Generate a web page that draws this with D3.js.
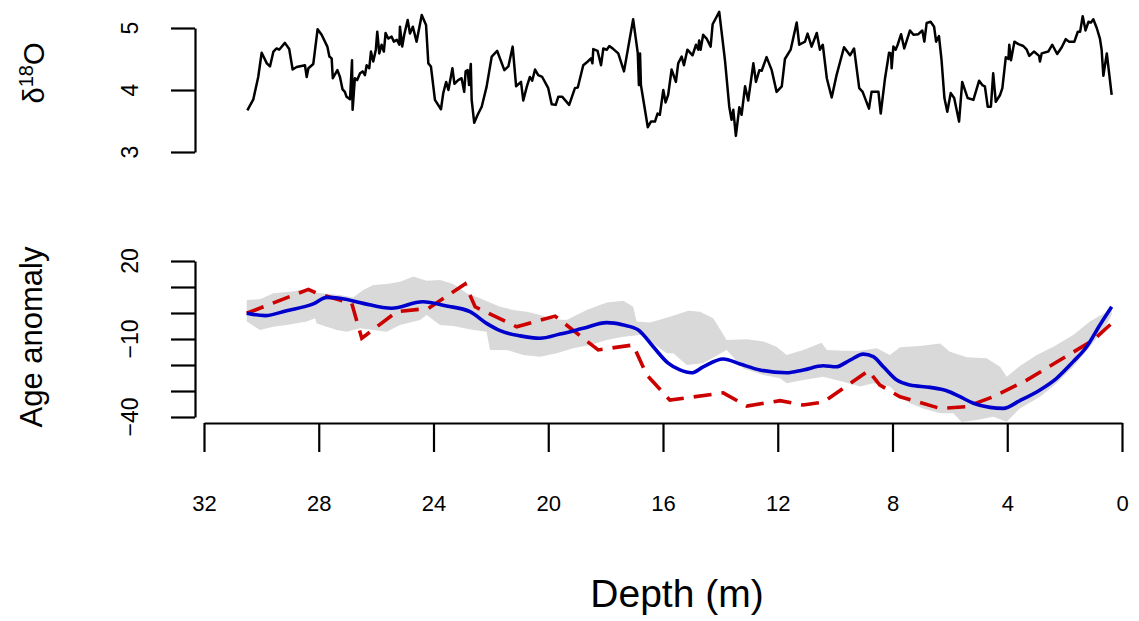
<!DOCTYPE html>
<html>
<head>
<meta charset="utf-8">
<script src="https://cdn.jsdelivr.net/npm/d3@7"></script>
<style>
  body { margin: 0; background: #fff; }
  svg { display: block; font-family: 'Liberation Sans', Arial, sans-serif; }
  .axis path, .axis line { stroke: #000; stroke-width: 2.2; }
</style>
</head>
<body>
<div id="chart"></div>
<script>
// ---- data: d18O record (depth in m, value in permil)
const o18Depth = [30.49, 30.28, 30.11, 29.99, 29.81, 29.70, 29.58, 29.47, 29.38, 29.18,
  29.03, 28.91, 28.77, 28.48, 28.42, 28.36, 28.19, 28.04, 27.90, 27.70,
  27.63, 27.55, 27.51, 27.35, 27.26, 27.17, 27.09, 27.03, 26.91, 26.84,
  26.82, 26.74, 26.66, 26.56, 26.47, 26.39, 26.33, 26.24, 26.18, 26.10,
  26.01, 25.96, 25.89, 25.81, 25.73, 25.67, 25.58, 25.46, 25.38, 25.28,
  25.19, 25.17, 25.09, 25.02, 24.90, 24.82, 24.72, 24.59, 24.41, 24.26,
  24.18, 24.09, 23.95, 23.74, 23.66, 23.56, 23.48, 23.34, 23.27, 23.14,
  23.02, 22.93, 22.88, 22.81, 22.76, 22.70, 22.67, 22.58, 22.46, 22.32,
  22.15, 21.97, 21.78, 21.53, 21.39, 21.24, 21.12, 20.95, 20.87, 20.75,
  20.64, 20.56, 20.46, 20.35, 20.21, 20.00, 19.88, 19.74, 19.65, 19.51,
  19.27, 19.07, 18.97, 18.78, 18.62, 18.51, 18.46, 18.43, 18.28, 18.16,
  18.08, 17.96, 17.87, 17.73, 17.56, 17.36, 17.04, 16.88, 16.84, 16.80,
  16.77, 16.53, 16.42, 16.28, 16.19, 16.11, 15.99, 15.91, 15.82, 15.70,
  15.61, 15.55, 15.47, 15.35, 15.27, 15.15, 14.97, 14.85, 14.77, 14.74,
  14.69, 14.60, 14.48, 14.34, 14.27, 14.04, 13.84, 13.69, 13.61, 13.55,
  13.46, 13.34, 13.26, 13.14, 13.03, 12.85, 12.76, 12.64, 12.56, 12.39,
  12.21, 12.04, 11.86, 11.75, 11.55, 11.34, 11.25, 11.05, 10.96, 10.82,
  10.64, 10.53, 10.43, 10.29, 10.12, 9.95, 9.69, 9.48, 9.34, 9.16,
  9.04, 8.82, 8.73, 8.49, 8.41, 8.26, 8.12, 8.05, 8.03, 7.97,
  7.89, 7.82, 7.70, 7.59, 7.39, 7.27, 7.10, 6.96, 6.89, 6.81,
  6.67, 6.55, 6.48, 6.38, 6.29, 6.19, 6.09, 5.97, 5.85, 5.68,
  5.57, 5.38, 5.18, 4.98, 4.87, 4.78, 4.68, 4.57, 4.49, 4.40,
  4.25, 4.17, 4.05, 3.96, 3.93, 3.87, 3.75, 3.61, 3.44, 3.32,
  3.23, 3.07, 2.89, 2.86, 2.80, 2.57, 2.43, 2.26, 2.10, 1.96,
  1.85, 1.66, 1.54, 1.46, 1.37, 1.27, 1.17, 1.08, 1.00, 0.88,
  0.77, 0.71, 0.65, 0.53, 0.36];
const o18Value = [3.67, 3.85, 4.21, 4.60, 4.43, 4.38, 4.62, 4.67, 4.65, 4.76,
  4.66, 4.33, 4.37, 4.40, 4.21, 4.35, 4.42, 4.98, 4.89, 4.70,
  4.54, 4.51, 4.19, 4.32, 4.21, 4.01, 3.97, 3.89, 3.85, 4.48,
  3.68, 4.19, 4.16, 4.27, 4.30, 4.24, 4.40, 4.35, 4.62, 4.46,
  4.65, 4.94, 4.59, 4.73, 4.62, 4.92, 4.83, 4.86, 4.78, 4.81,
  4.73, 5.02, 4.70, 4.89, 5.13, 4.91, 5.02, 4.78, 5.21, 5.05,
  4.43, 4.38, 3.84, 3.69, 3.95, 4.13, 4.00, 4.35, 4.10, 4.16,
  4.19, 3.97, 4.30, 4.32, 4.08, 4.42, 3.84, 3.47, 3.60, 3.73,
  4.05, 4.54, 4.63, 4.32, 4.38, 4.70, 4.06, 4.13, 3.83, 4.05,
  4.21, 4.15, 4.33, 4.24, 4.21, 4.03, 3.77, 3.76, 3.89, 3.89,
  3.76, 4.03, 4.04, 4.40, 4.46, 4.51, 4.43, 4.66, 4.63, 4.40,
  4.67, 4.65, 4.71, 4.66, 4.59, 4.30, 5.14, 4.60, 4.08, 4.59,
  4.08, 3.40, 3.49, 3.49, 3.62, 3.60, 4.00, 3.80, 3.92, 4.33,
  4.21, 4.13, 4.43, 4.54, 4.40, 4.65, 4.56, 4.73, 4.65, 4.80,
  4.65, 4.89, 4.83, 4.70, 5.06, 5.26, 4.48, 3.73, 3.52, 3.68,
  3.26, 3.72, 3.60, 4.06, 3.83, 4.43, 4.13, 4.32, 4.31, 4.53,
  4.32, 3.97, 4.06, 4.50, 4.65, 5.09, 4.73, 4.78, 4.91, 4.70,
  4.92, 4.65, 4.73, 4.19, 3.88, 4.24, 4.69, 4.56, 4.67, 4.03,
  3.97, 3.70, 3.97, 3.97, 3.62, 4.19, 4.60, 4.59, 4.35, 4.70,
  4.65, 4.73, 4.90, 4.67, 4.96, 4.89, 4.90, 4.96, 4.78, 5.08,
  5.10, 5.02, 4.78, 4.87, 4.48, 3.87, 3.65, 3.95, 3.87, 3.49,
  4.13, 3.87, 3.84, 4.15, 4.08, 4.06, 3.73, 3.73, 4.27, 3.81,
  3.92, 4.03, 4.53, 4.50, 4.73, 4.48, 4.78, 4.74, 4.71, 4.65,
  4.55, 4.62, 4.55, 4.46, 4.59, 4.62, 4.73, 4.58, 4.69, 4.82,
  4.78, 4.78, 4.94, 4.94, 5.19, 4.96, 5.10, 5.09, 5.14, 5.00,
  4.83, 4.65, 4.23, 4.59, 3.92];

// ---- data: age anomaly, posterior (blue), tie-point model (red), band
const ageDepth = [30.51, 29.87, 29.12, 28.19, 27.72, 27.26, 26.45, 25.46, 24.38, 23.54,
  22.73, 22.15, 21.68, 20.98, 20.29, 19.59, 18.78, 17.96, 17.38, 16.86,
  16.34, 15.82, 15.41, 15.00, 14.60, 13.90, 13.32, 12.62, 11.69, 11.11,
  10.41, 9.97, 9.48, 9.02, 8.67, 8.32, 7.85, 7.39, 6.69, 6.11,
  5.65, 5.18, 4.60, 4.14, 3.56, 2.86, 2.28, 1.70, 1.23, 0.77, 0.36];
const ageMean = [-0.1, -1.0, 0.9, 3.5, 6.0, 5.7, 3.7, 1.8, 4.3, 2.7,
  0.5, -4.0, -6.8, -8.8, -9.7, -8.1, -5.9, -3.7, -4.6, -6.5,
  -13.0, -19.3, -21.9, -23.0, -20.7, -17.7, -19.6, -21.9, -23.0, -21.9,
  -20.3, -20.7, -18.1, -15.8, -16.8, -20.7, -25.8, -27.7, -28.6, -29.9,
  -32.2, -34.7, -36.3, -36.7, -33.7, -29.6, -25.1, -18.7, -13.0, -4.6, 2.4];

const tieDepth = [30.51, 28.36, 28.07, 26.85, 26.50, 25.28, 24.18, 22.90, 22.55, 21.10,
  19.76, 18.26, 17.04, 16.57, 15.76, 13.90, 13.08, 11.92, 11.11, 10.41,
  8.84, 8.44, 7.74, 6.34, 5.41, 4.49, 3.32, 2.16, 1.00, 0.36];
const tieAnomaly = [-0.1, 9.1, 7.6, 3.7, -9.7, 0.5, 1.8, 11.2, 2.4, -5.3,
  -1.2, -14.2, -12.3, -23.8, -33.5, -30.7, -35.8, -33.7, -35.4, -34.3,
  -22.2, -27.7, -32.2, -36.7, -36.0, -32.2, -25.8, -18.1, -10.4, -4.0];

const bandUpperDepth = [30.51, 30.05, 29.58, 29.00, 28.42, 27.96, 27.26, 26.80, 26.45, 26.10,
  25.63, 25.17, 24.70, 24.24, 23.77, 23.31, 22.84, 22.38, 21.68, 21.22,
  20.75, 20.29, 19.82, 19.36, 18.66, 17.96, 17.38, 17.04, 16.92, 16.45,
  15.76, 15.12, 14.71, 14.25, 13.78, 13.08, 12.50, 12.04, 11.69, 11.11,
  10.47, 10.29, 9.72, 9.13, 8.55, 8.09, 7.74, 7.04, 6.34, 6.00,
  5.41, 4.72, 4.25, 4.02, 3.56, 2.97, 2.39, 1.70, 1.12, 0.53, 0.36];
const bandUpper = [5.0, 5.3, 7.6, 8.2, 9.1, 7.6, 6.9, 6.0, 8.8, 10.8,
  11.2, 12.0, 14.0, 12.4, 12.7, 11.2, 7.6, 5.7, 2.4, 1.2,
  0.5, -0.8, -2.4, -2.7, 1.2, 4.0, 4.7, 2.4, -3.3, -3.7,
  -1.4, 0.9, 0.5, -2.0, -10.4, -10.1, -11.0, -13.0, -16.2, -14.2,
  -11.4, -14.2, -14.5, -14.5, -13.6, -16.2, -13.2, -12.7, -11.7, -14.9,
  -17.0, -17.4, -20.7, -24.5, -20.4, -16.2, -13.0, -8.5, -3.3, 0.5, 1.2];
const bandLowerDepth = [30.51, 30.05, 29.58, 29.12, 28.42, 28.13, 28.07, 27.37, 27.03, 26.56,
  26.10, 25.63, 25.17, 24.47, 24.24, 23.77, 23.31, 22.61, 22.15, 22.03,
  21.45, 20.87, 20.29, 19.71, 19.13, 18.54, 17.96, 17.38, 16.80, 16.34,
  15.87, 15.64, 15.17, 14.60, 13.78, 13.20, 12.50, 11.92, 11.69, 11.11,
  10.41, 9.72, 9.13, 8.67, 8.09, 7.74, 7.39, 6.93, 6.34, 5.88,
  5.59, 5.07, 4.49, 4.02, 3.56, 2.86, 2.28, 1.70, 1.12, 0.65, 0.36];
const bandLower = [-3.3, -6.5, -5.3, -4.6, -3.3, -2.0, -4.0, -6.5, -7.2, -5.9,
  -6.5, -7.2, -4.6, -2.7, -0.8, -4.6, -5.0, -6.5, -7.2, -14.2,
  -14.2, -16.2, -16.8, -15.5, -13.6, -12.3, -10.4, -9.1, -8.5, -11.7,
  -15.5, -15.5, -20.0, -19.3, -14.2, -21.3, -23.8, -25.1, -27.0, -25.8,
  -24.5, -26.4, -28.3, -27.0, -28.3, -32.2, -34.7, -36.7, -38.6, -38.6,
  -41.9, -41.2, -39.9, -41.8, -36.7, -32.2, -27.0, -20.7, -13.0, -6.5, -0.8];

// ---- tick labels
const depthTicks = [32, 28, 24, 20, 16, 12, 8, 4, 0];
const o18Ticks = [3, 4, 5];
const ageTicks = [20, 10, 0, -10, -20, -30, -40];
const ageTickLabels = [20, -10, -40];

const W = 1139;
const H = 621;

let svg = d3.select('#chart')
  .append('svg')
  .attr('width', W)
  .attr('height', H);

// scales
let x = d3.scaleLinear().domain([32, 0]).range([204, 1122]);
let yTop = d3.scaleLinear().domain([3, 5]).range([152, 28]);
let yBot = d3.scaleLinear().domain([-40, 20]).range([417, 261]);

const fmt = function(v) {
  return v < 0 ? '\u2212' + Math.abs(v) : String(v);
};

/**
 * left axis with R style rotated labels
 * @param {object} scale y scale
 * @param {array} ticks tick values
 * @param {array} labels values that get a label
 */
function leftAxis(scale, ticks, labels) {
  let g = svg.append('g')
    .attr('class', 'axis')
    .attr('transform', 'translate(195,0)')
    .call(d3.axisLeft(scale).tickValues(ticks).tickSize(24)
      .tickSizeOuter(0).tickFormat(''));

  g.selectAll('.lab')
    .data(labels)
    .enter()
    .append('text')
    .attr('class', 'lab')
    .attr('transform', function(d) {
      return 'translate(-57,' + scale(d) + ') rotate(-90)';
    })
    .attr('text-anchor', 'middle')
    .attr('font-size', 23)
    .attr('fill', '#000')
    .text(fmt);
}

// ---- top panel: d18O
leftAxis(yTop, o18Ticks, o18Ticks);

let o18 = o18Depth.map(function(d, i) {
  return [d, o18Value[i]];
});

svg.append('path')
  .datum(o18)
  .attr('fill', 'none')
  .attr('stroke', '#000')
  .attr('stroke-width', 2.5)
  .attr('stroke-linejoin', 'round')
  .attr('d', d3.line()
    .x(function(d) { return x(d[0]); })
    .y(function(d) { return yTop(d[1]); }));

let o18Title = svg.append('text')
  .attr('transform', 'translate(44,73) rotate(-90)')
  .attr('text-anchor', 'middle')
  .attr('font-size', 29)
  .attr('fill', '#000');
o18Title.append('tspan').text('\u03b4');
o18Title.append('tspan').attr('font-size', 20).attr('dy', -11).text('18');
o18Title.append('tspan').attr('dy', 11).text('O');

// ---- bottom panel: age anomaly
let bandPts = bandUpperDepth.map(function(d, i) { return [d, bandUpper[i]]; })
  .concat(bandLowerDepth.map(function(d, i) { return [d, bandLower[i]]; }).reverse());

svg.append('path')
  .datum(bandPts)
  .attr('fill', '#d9d9d9')
  .attr('stroke', 'none')
  .attr('d', d3.line()
    .x(function(d) { return x(d[0]); })
    .y(function(d) { return yBot(d[1]); })
    .curve(d3.curveLinearClosed));

svg.append('path')
  .datum(tieDepth.map(function(d, i) { return [d, tieAnomaly[i]]; }))
  .attr('fill', 'none')
  .attr('stroke', '#cd0000')
  .attr('stroke-width', 3.6)
  .attr('stroke-dasharray', '18,10')
  .attr('d', d3.line()
    .x(function(d) { return x(d[0]); })
    .y(function(d) { return yBot(d[1]); }));

svg.append('path')
  .datum(ageDepth.map(function(d, i) { return [d, ageMean[i]]; }))
  .attr('fill', 'none')
  .attr('stroke', '#0000cd')
  .attr('stroke-width', 3.6)
  .attr('d', d3.line()
    .x(function(d) { return x(d[0]); })
    .y(function(d) { return yBot(d[1]); })
    .curve(d3.curveMonotoneX));

leftAxis(yBot, ageTicks, ageTickLabels);

svg.append('text')
  .attr('transform', 'translate(42,337) rotate(-90)')
  .attr('text-anchor', 'middle')
  .attr('font-size', 31)
  .attr('fill', '#000')
  .text('Age anomaly');

// ---- depth axis
let xAxis = svg.append('g')
  .attr('class', 'axis')
  .attr('transform', 'translate(0,423)')
  .call(d3.axisBottom(x).tickValues(depthTicks).tickSize(29)
    .tickSizeOuter(0).tickPadding(43));

xAxis.selectAll('text')
  .attr('font-size', 22)
  .attr('fill', '#000');

// title sits a little right of the axis centre, as in the original
svg.append('text')
  .attr('x', (x(32) + x(0)) / 2 + 14)
  .attr('y', 607)
  .attr('text-anchor', 'middle')
  .attr('font-size', 39)
  .attr('fill', '#000')
  .text('Depth (m)');
</script>
</body>
</html>
